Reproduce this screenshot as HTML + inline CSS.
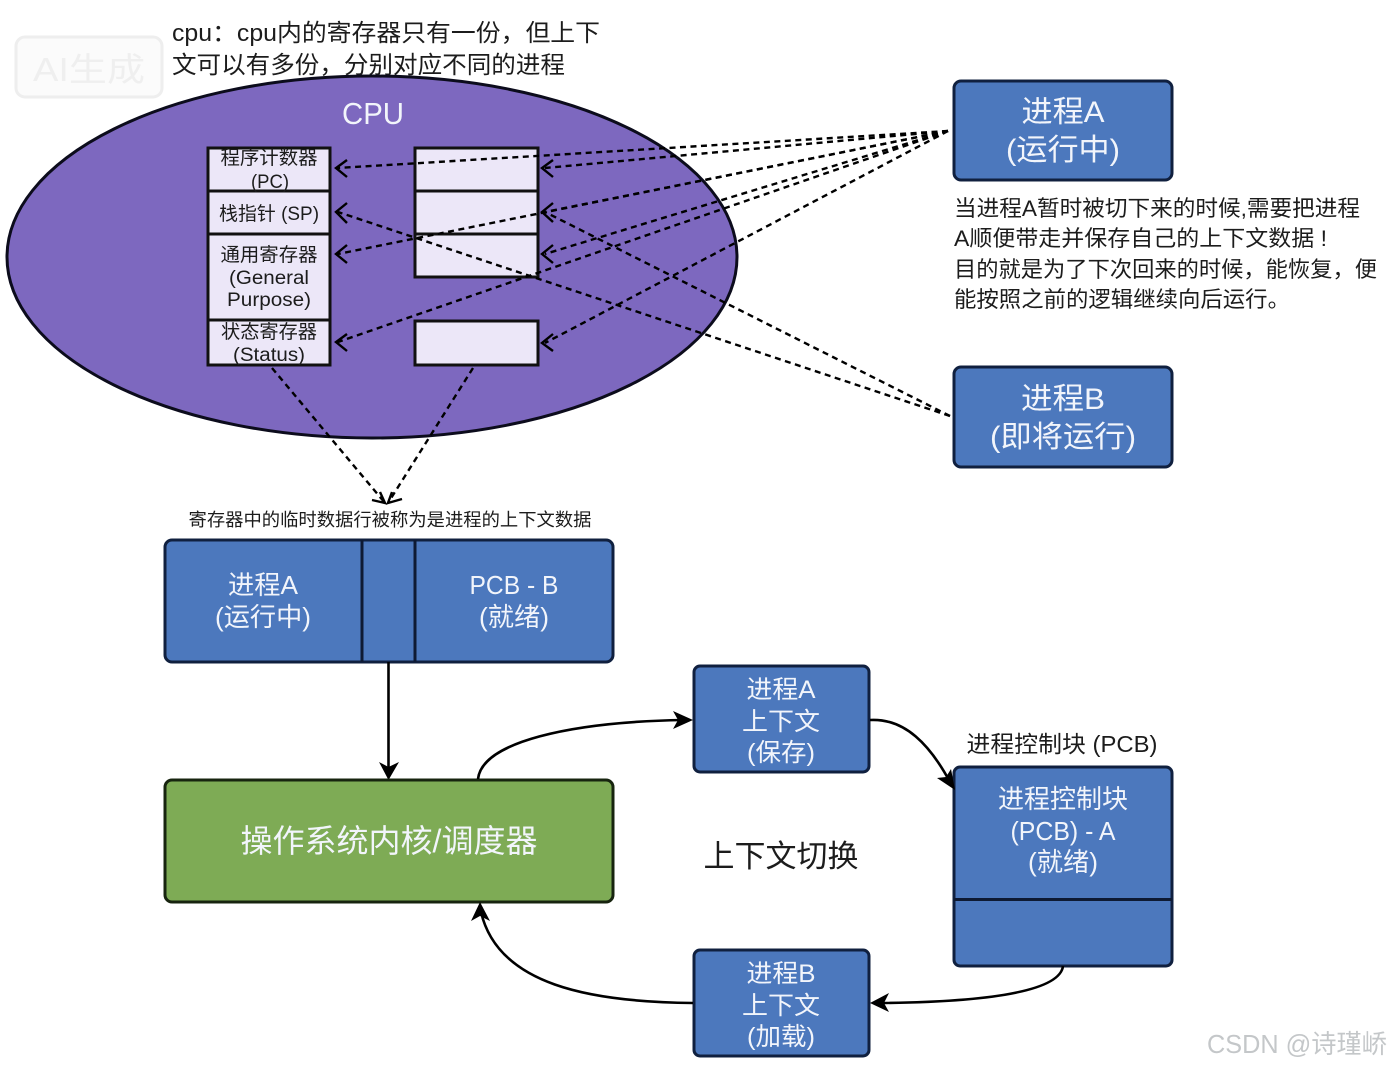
<!DOCTYPE html>
<html><head><meta charset="utf-8"><style>
html,body{margin:0;padding:0;background:#fff;width:1391px;height:1067px;overflow:hidden}
svg{display:block}
text{font-family:"Liberation Sans","Noto Sans CJK SC",sans-serif;text-anchor:middle}
.w{fill:#f2f5fb}.k{fill:#1c1c1c}
.s{text-anchor:start}
.box{fill:#4c78bd;stroke:#10203f;stroke-width:3}
.reg{fill:#ece7f8;stroke:#111;stroke-width:3}
.d{fill:none;stroke:#000;stroke-width:2.4;stroke-dasharray:6 4.5}
.a{fill:none;stroke:#000;stroke-width:2.4}
.c{fill:none;stroke:#000;stroke-width:2.6}
</style></head><body>
<svg width="1391" height="1067" viewBox="0 0 1391 1067" xmlns="http://www.w3.org/2000/svg">
<rect width="1391" height="1067" fill="#fff"/>
<!-- watermark -->
<rect x="16" y="37" width="146" height="60" rx="9" fill="#fbfbfb" stroke="#eeeeee" stroke-width="3"/>
<text x="89" y="81" font-size="33" fill="#efefef" textLength="112" lengthAdjust="spacingAndGlyphs">AI生成</text>
<!-- title -->
<text class="s k" x="172" y="41" font-size="24" textLength="428" lengthAdjust="spacingAndGlyphs">cpu：cpu内的寄存器只有一份，但上下</text>
<text class="s k" x="172" y="73" font-size="24" textLength="393" lengthAdjust="spacingAndGlyphs">文可以有多份，分别对应不同的进程</text>
<!-- CPU -->
<ellipse cx="372" cy="257" rx="365" ry="181" fill="#7d68bf" stroke="#0c0c1c" stroke-width="3"/>
<text x="373" y="124" font-size="31" class="w" textLength="62" lengthAdjust="spacingAndGlyphs">CPU</text>
<!-- register left -->
<rect class="reg" x="208" y="148" width="122" height="43"/>
<rect class="reg" x="208" y="191" width="122" height="43"/>
<rect class="reg" x="208" y="234" width="122" height="86"/>
<rect class="reg" x="208" y="320" width="122" height="45"/>
<g class="k" font-size="19">
<text x="269" y="164" textLength="97" lengthAdjust="spacingAndGlyphs">程序计数器</text>
<text x="270" y="188" textLength="38" lengthAdjust="spacingAndGlyphs">(PC)</text>
<text x="269" y="220" textLength="100" lengthAdjust="spacingAndGlyphs">栈指针 (SP)</text>
<text x="269" y="261" textLength="97" lengthAdjust="spacingAndGlyphs">通用寄存器</text>
<text x="269" y="284" textLength="80" lengthAdjust="spacingAndGlyphs">(General</text>
<text x="269" y="306" textLength="84" lengthAdjust="spacingAndGlyphs">Purpose)</text>
<text x="269" y="338" textLength="96" lengthAdjust="spacingAndGlyphs">状态寄存器</text>
<text x="269" y="361" textLength="72" lengthAdjust="spacingAndGlyphs">(Status)</text>
</g>
<!-- register right -->
<rect class="reg" x="415" y="148" width="123" height="43"/>
<rect class="reg" x="415" y="191" width="123" height="43"/>
<rect class="reg" x="415" y="234" width="123" height="43"/>
<rect class="reg" x="415" y="321" width="123" height="44"/>
<!-- dashed from A -->
<g class="d">
<path d="M948 131L338 168"/>
<path d="M948 131L545 168"/>
<path d="M948 131L545 212"/>
<path d="M948 131L338 254"/>
<path d="M948 131L545 254"/>
<path d="M948 131L338 342"/>
<path d="M948 131L545 343"/>
<path d="M950 416L338 212"/>
<path d="M950 416L545 212"/>
<path d="M272 368L385 503"/>
<path d="M473 368L388 503"/>
</g>
<!-- open arrowheads -->
<g class="a">
<path d="M347 160L336 168L347 177"/>
<path d="M553 160L542 168L553 177"/>
<path d="M347 203L336 212L347 223"/>
<path d="M553 203L542 212L553 222"/>
<path d="M347 245L336 254L347 263"/>
<path d="M553 245L542 254L553 263"/>
<path d="M347 334L336 342L347 351"/>
<path d="M553 334L542 343L553 351"/>
<path d="M372 500L385 503L380 492"/>
<path d="M402 499L388 503L392 492"/>
</g>
<!-- process A/B -->
<rect class="box" x="954" y="81" width="218" height="99" rx="7"/>
<text x="1063" y="122" font-size="30" class="w" textLength="83" lengthAdjust="spacingAndGlyphs">进程A</text>
<text x="1063" y="160" font-size="30" class="w" textLength="114" lengthAdjust="spacingAndGlyphs">(运行中)</text>
<rect class="box" x="954" y="367" width="218" height="100" rx="7"/>
<text x="1063" y="409" font-size="30" class="w" textLength="84" lengthAdjust="spacingAndGlyphs">进程B</text>
<text x="1063" y="447" font-size="30" class="w" textLength="146" lengthAdjust="spacingAndGlyphs">(即将运行)</text>
<!-- note -->
<g class="k" font-size="22">
<text class="s" x="954" y="216" textLength="406" lengthAdjust="spacingAndGlyphs">当进程A暂时被切下来的时候,需要把进程</text>
<text class="s" x="954" y="246" textLength="373" lengthAdjust="spacingAndGlyphs">A顺便带走并保存自己的上下文数据 !</text>
<text class="s" x="954" y="277" textLength="423" lengthAdjust="spacingAndGlyphs">目的就是为了下次回来的时候，能恢复，便</text>
<text class="s" x="954" y="307" textLength="336" lengthAdjust="spacingAndGlyphs">能按照之前的逻辑继续向后运行。</text>
</g>
<text x="390" y="526" font-size="18" class="k" textLength="403" lengthAdjust="spacingAndGlyphs">寄存器中的临时数据行被称为是进程的上下文数据</text>
<!-- PCB row -->
<rect class="box" x="165" y="540" width="448" height="122" rx="7"/>
<path d="M362 540V662M415 540V662" stroke="#0e1a33" stroke-width="3" fill="none"/>
<text x="263" y="594" font-size="26" class="w" textLength="70" lengthAdjust="spacingAndGlyphs">进程A</text>
<text x="263" y="626" font-size="26" class="w" textLength="96" lengthAdjust="spacingAndGlyphs">(运行中)</text>
<text x="514" y="594" font-size="26" class="w" textLength="89" lengthAdjust="spacingAndGlyphs">PCB - B</text>
<text x="514" y="626" font-size="26" class="w" textLength="70" lengthAdjust="spacingAndGlyphs">(就绪)</text>
<!-- arrow down -->
<path d="M388.500 662V770" class="c"/>
<path d="M379 762L388.500 780L399 762L388.500 767Z" fill="#000"/>
<!-- kernel -->
<rect x="165" y="780" width="448" height="122" rx="7" fill="#7eab55" stroke="#17240f" stroke-width="3"/>
<text x="389" y="852" font-size="32" class="w" textLength="297" lengthAdjust="spacingAndGlyphs">操作系统内核/调度器</text>
<!-- context boxes -->
<rect class="box" x="694" y="666" width="175" height="106" rx="6"/>
<text x="781" y="698" font-size="25" class="w" textLength="69" lengthAdjust="spacingAndGlyphs">进程A</text>
<text x="781" y="730" font-size="25" class="w" textLength="78" lengthAdjust="spacingAndGlyphs">上下文</text>
<text x="781" y="761" font-size="25" class="w" textLength="68" lengthAdjust="spacingAndGlyphs">(保存)</text>
<rect class="box" x="694" y="950" width="175" height="106" rx="6"/>
<text x="781" y="982" font-size="25" class="w" textLength="69" lengthAdjust="spacingAndGlyphs">进程B</text>
<text x="781" y="1014" font-size="25" class="w" textLength="78" lengthAdjust="spacingAndGlyphs">上下文</text>
<text x="781" y="1045" font-size="25" class="w" textLength="68" lengthAdjust="spacingAndGlyphs">(加载)</text>
<text x="781" y="867" font-size="31" class="k" textLength="155" lengthAdjust="spacingAndGlyphs">上下文切换</text>
<!-- PCB A -->
<text x="1062" y="752" font-size="23" class="k" textLength="191" lengthAdjust="spacingAndGlyphs">进程控制块 (PCB)</text>
<rect class="box" x="954" y="767" width="218" height="199" rx="6"/>
<path d="M954 899.500H1172" stroke="#0e1a33" stroke-width="3"/>
<text x="1063" y="808" font-size="26" class="w" textLength="130" lengthAdjust="spacingAndGlyphs">进程控制块</text>
<text x="1063" y="840" font-size="26" class="w" textLength="105" lengthAdjust="spacingAndGlyphs">(PCB) - A</text>
<text x="1063" y="871" font-size="26" class="w" textLength="70" lengthAdjust="spacingAndGlyphs">(就绪)</text>
<!-- curves -->
<path class="c" d="M478 779C482 742 570 722 683 720"/>
<path d="M693 720L673 711L678 720L673 729Z" fill="#000"/>
<path class="c" d="M870 720C905 718 930 745 950 782"/>
<path d="M955 790L937 778L946 777L951 769Z" fill="#000"/>
<path class="c" d="M1063 966C1060 992 985 1002 880 1003"/>
<path d="M870 1003L889 993L884 1003L889 1012Z" fill="#000"/>
<path class="c" d="M693 1003C590 1002 498 985 481 912"/>
<path d="M480 902L471 921L480 916L490 921Z" fill="#000"/>
<!-- CSDN watermark -->
<text x="1297" y="1053" font-size="26" fill="#c4c7c9" textLength="180" lengthAdjust="spacingAndGlyphs">CSDN @诗瑾峤</text>
</svg>
</body></html>
